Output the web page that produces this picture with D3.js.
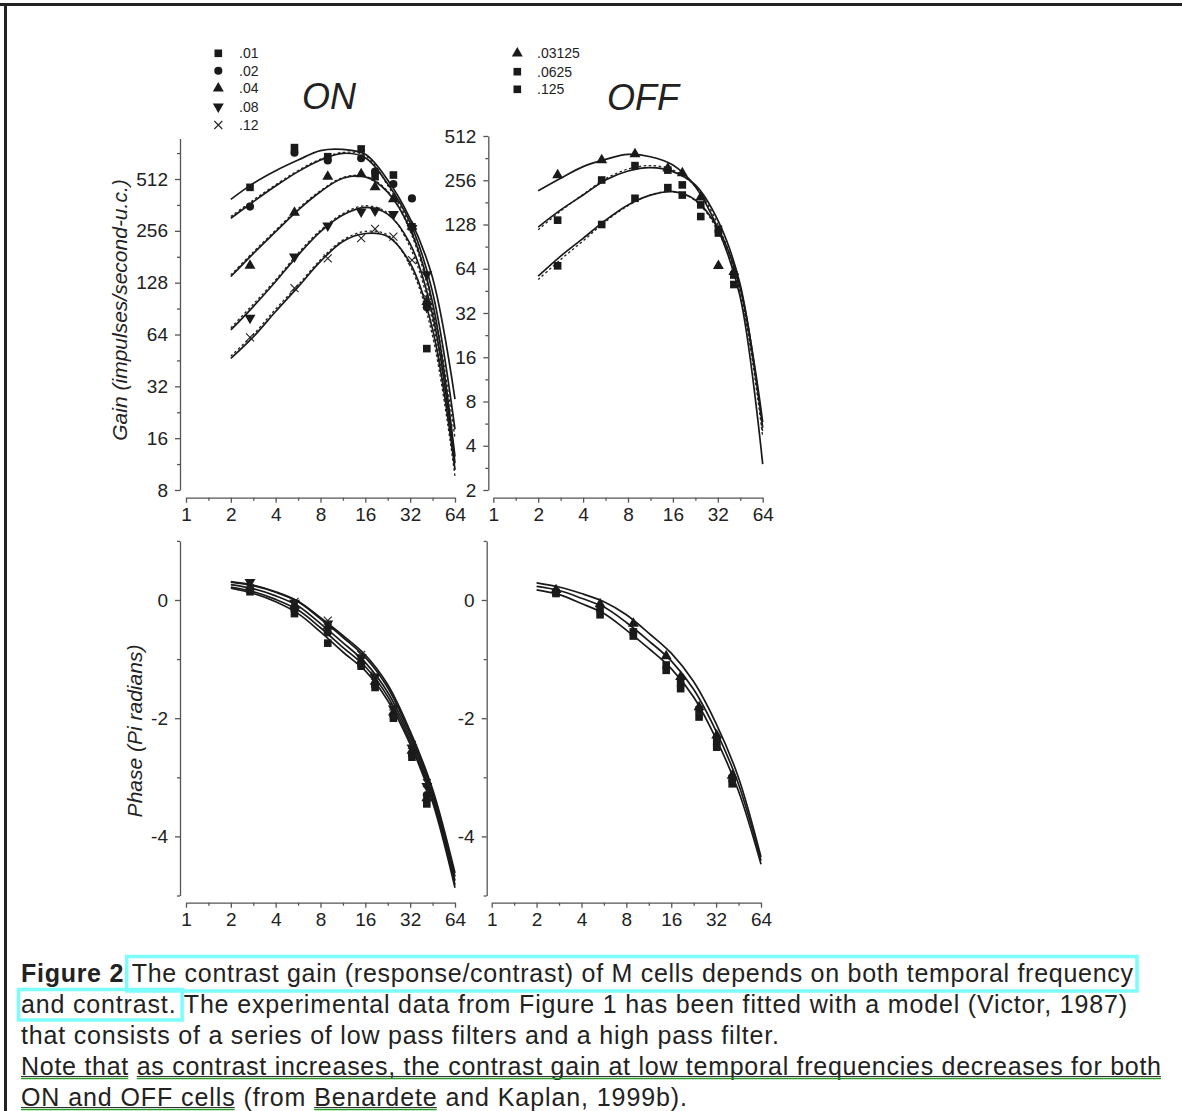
<!DOCTYPE html>
<html><head><meta charset="utf-8">
<script src="https://cdn.jsdelivr.net/npm/d3@7"></script>
<style>
body{margin:0;background:#fff;}
svg{display:block;font-family:"Liberation Sans",Arial,sans-serif;}
</style></head><body>
<svg id="c" width="1182" height="1111"></svg>
<script>
// ---------- DATA ----------
const fitFreq = [2, 2.83, 4, 5.66, 8, 11.3, 16, 22.6, 32, 45, 64];
const onFreq  = [2.69, 5.35, 8.95, 15.0, 18.6, 24.7, 32.9, 41.4];
const offFreq = [2.7, 5.33, 8.91, 14.8, 18.5, 24.6, 32.3, 41];
const xTickLabels = [1, 2, 4, 8, 16, 32, 64];
const onGainTicks = [8, 16, 32, 64, 128, 256, 512];
const offGainTicks = [2, 4, 8, 16, 32, 64, 128, 256, 512];
const phaseTicks = [0, -2, -4];

const onContrasts = [".01", ".02", ".04", ".08", ".12"];
const onSymbols = ["square", "circle", "triangle", "triangleDown", "x"];
const offContrasts = [".03125", ".0625", ".125"];
const offSymbols = ["triangle", "square", "square"];

// ON gain fitted curves (solid)
const onFit01 = [390, 483, 572, 660, 748, 760, 712, 505, 300, 139, 27];
const onFit02 = [303, 378, 466, 565, 660, 722, 680, 480, 285, 115, 18];
const onFit04 = [139, 189, 253, 338, 432, 517, 527, 430, 262, 100, 12.5];
const onFit08 = [68, 93, 130, 185, 253, 316, 350, 320, 215, 85, 11.5];
const onFit12 = [46.5, 62, 87, 121, 170, 222, 247, 237, 166, 70, 10.5];
// ON gain fitted curves (dotted)
const onDot02 = [310, 386, 474, 574, 668, 730, 700, 470, 270, 100, 16];
const onDot04 = [142, 193, 258, 344, 438, 522, 532, 435, 255, 92, 11];
const onDot08 = [70, 96, 133, 190, 258, 322, 358, 325, 205, 78, 10.2];
const onDot12 = [48, 64, 90, 124, 174, 226, 254, 242, 160, 64, 9.6];
// ON gain measured
const onGain01 = [458, 779, 690, 765, 528, 540, 270, 53];
const onGain02 = [354, 728, 656, 676, 565, 479, 395, 92];
const onGain04 = [161, 327, 528, 547, 460, 392, 271, 99];
const onGain08 = [80, 181, 274, 331, 335, 320, 265, 143];
const onGain12 = [61.6, 119, 177, 232, 263, 237, 173, 104];

// OFF gain fitted curves
const offFit03 = [217, 264, 317, 355, 384, 370, 325, 232, 120, 42, 3.0];
const offFit06 = [123, 161, 203, 257, 296, 312, 293, 238, 137, 51, 5.3];
const offFit12 = [57, 78, 103, 137, 174, 203, 214, 188, 121, 48.5, 5.8];
const offDot06 = [118, 158, 205, 262, 305, 322, 300, 232, 128, 46, 4.6];
const offDot12 = [54, 74, 99, 134, 172, 203, 215, 186, 116, 45, 5.0];
// OFF gain measured
const offGain03 = [278, 351, 386, 309, 286, 196, 67, 61];
const offGain06 = [137, 257, 322, 300, 238, 174, 119, 58];
const offGain12 = [67, 128, 193, 228, 203, 145, 112, 50];

// ON phase fitted curves
const onPh01 = [0.20, 0.11, -0.03, -0.23, -0.54, -0.88, -1.20, -1.70, -2.44, -3.40, -4.87];
const onPh02 = [0.22, 0.14, 0.01, -0.17, -0.47, -0.80, -1.13, -1.63, -2.39, -3.35, -4.82];
const onPh04 = [0.26, 0.19, 0.07, -0.10, -0.40, -0.72, -1.06, -1.56, -2.33, -3.29, -4.75];
const onPh08 = [0.30, 0.24, 0.13, -0.03, -0.32, -0.63, -0.97, -1.48, -2.27, -3.23, -4.68];
const onPh12 = [0.31, 0.25, 0.14, -0.02, -0.30, -0.60, -0.93, -1.43, -2.22, -3.18, -4.62];
// ON phase measured
const onPm01 = [0.14, -0.23, -0.73, -1.12, -1.48, -2.00, -2.66, -3.45];
const onPm02 = [0.17, -0.17, -0.55, -1.10, -1.45, -1.96, -2.62, -3.30];
const onPm04 = [0.22, -0.10, -0.45, -1.03, -1.38, -1.90, -2.55, -3.35];
const onPm08 = [0.30, -0.05, -0.40, -0.97, -1.30, -1.84, -2.50, -3.15];
const onPm12 = [0.20, -0.03, -0.35, -0.93, -1.28, -1.80, -2.45, -3.10];

// OFF phase fitted curves
const offPh03 = [0.29, 0.22, 0.11, -0.03, -0.25, -0.56, -0.90, -1.38, -2.09, -2.99, -4.35];
const offPh06 = [0.23, 0.16, 0.03, -0.12, -0.38, -0.69, -1.03, -1.51, -2.22, -3.10, -4.41];
const offPh12 = [0.17, 0.09, -0.06, -0.23, -0.51, -0.82, -1.16, -1.64, -2.35, -3.22, -4.47];
// OFF phase measured
const offPm03 = [0.17, -0.07, -0.40, -0.95, -1.30, -1.81, -2.29, -2.97];
const offPm06 = [0.13, -0.14, -0.54, -1.10, -1.41, -1.86, -2.40, -3.02];
const offPm12 = [0.11, -0.25, -0.61, -1.19, -1.50, -1.98, -2.49, -3.11];

const captionLines = [
  ["Figure 2 ", "The contrast gain (response/contrast) of M cells depends on both temporal frequency"],
  ["", "and contrast.  The experimental data from Figure 1 has been fitted with a model (Victor, 1987)"],
  ["", "that consists of a series of low pass filters and a high pass filter."],
  ["", "Note that as contrast increases, the contrast gain at low temporal frequencies decreases for both"],
  ["", "ON and OFF cells (from Benardete and Kaplan, 1999b)."]
];

// ---------- DRAWING ----------
const svg = d3.select("#c");
const INK = "#1a1a1a", AX = "#555";

// frame
svg.append("rect").attr("x", 0).attr("y", 3).attr("width", 1182).attr("height", 3).attr("fill", "#222");
svg.append("rect").attr("x", 4).attr("y", 3).attr("width", 3).attr("height", 1108).attr("fill", "#222");

const zip = (xs, ys) => xs.map((x, i) => [x, ys[i]]);
const minorLog = (majors) => majors.slice(0, -1).map(v => v * Math.SQRT2);

function drawMarker(g, type, cx, cy) {
  if (type === "x") {
    g.append("path").attr("d", "M-4,-4L4,4M-4,4L4,-4")
      .attr("transform", `translate(${cx},${cy})`)
      .attr("stroke", "#222").attr("stroke-width", 1.1).attr("fill", "none");
    return;
  }
  const map = {square: [d3.symbolSquare, 58], circle: [d3.symbolCircle, 52],
               triangle: [d3.symbolTriangle, 52], triangleDown: [d3.symbolTriangle, 52]};
  const [t, s] = map[type];
  g.append("path").attr("d", d3.symbol(t, s)())
    .attr("transform", `translate(${cx},${cy})` + (type === "triangleDown" ? " rotate(180)" : ""))
    .attr("fill", INK);
}

function styleAxis(g) {
  g.selectAll(".domain").attr("stroke", AX).attr("stroke-width", 1.3);
  g.selectAll(".tick line").attr("stroke", AX).attr("stroke-width", 1.3);
  g.selectAll(".tick text").attr("fill", "#222").style("font-size", "19px")
    .style("font-family", '"Liberation Sans",Arial,sans-serif');
}

function panel(cfg) {
  const g = svg.append("g");
  const x = d3.scaleLog().base(2).domain([1, 64]).range(cfg.xr);
  const y = (cfg.log ? d3.scaleLog().base(2) : d3.scaleLinear()).domain(cfg.yd).range(cfg.yr);
  const xa = g.append("g").attr("transform", `translate(0,${cfg.xAxisY})`)
    .call(d3.axisBottom(x).tickValues(xTickLabels).tickFormat(d3.format("d")).tickSize(5).tickSizeOuter(0).tickPadding(5));
  styleAxis(xa);
  const xm = g.append("g").attr("transform", `translate(0,${cfg.xAxisY})`)
    .call(d3.axisBottom(x).tickValues(minorLog(xTickLabels)).tickFormat("").tickSize(3).tickSizeOuter(0));
  styleAxis(xm); xm.select(".domain").remove();
  const ya = g.append("g").attr("transform", `translate(${cfg.yAxisX},0)`)
    .call(d3.axisLeft(y).tickValues(cfg.yTicks).tickFormat(d3.format("d")).tickSize(5).tickSizeOuter(0).tickPadding(7));
  styleAxis(ya);
  const ym = g.append("g").attr("transform", `translate(${cfg.yAxisX},0)`)
    .call(d3.axisLeft(y).tickValues(cfg.yMinor).tickFormat("").tickSize(3).tickSizeOuter(0));
  styleAxis(ym); ym.select(".domain").remove();
  ya.selectAll(".tick text").text(d => d < 0 ? "-" + Math.abs(d) : d);

  const line = d3.line().x(d => x(d[0])).y(d => y(d[1])).curve(d3.curveCatmullRom.alpha(0.5));
  (cfg.dots || []).forEach(s => {
    g.append("path").attr("d", line(zip(fitFreq, s))).attr("fill", "none")
      .attr("stroke", "#222").attr("stroke-width", 1.3).attr("stroke-dasharray", "2.5,2.5");
  });
  cfg.fits.forEach(s => {
    g.append("path").attr("d", line(zip(fitFreq, s))).attr("fill", "none")
      .attr("stroke", INK).attr("stroke-width", 1.7);
  });
  cfg.meas.forEach((s, i) => {
    s.forEach((v, j) => drawMarker(g, cfg.syms[i], x(cfg.mFreq[j]), y(v)));
  });
}

panel({xr: [186, 455], xAxisY: 497.7, yAxisX: 180, log: true, yd: [8, 880], yr: [490, 138.5],
  yTicks: onGainTicks, yMinor: minorLog(onGainTicks.concat([1024])).filter(v => v < 880),
  fits: [onFit01, onFit02, onFit04, onFit08, onFit12], dots: [onDot02, onDot04, onDot08, onDot12],
  meas: [onGain01, onGain02, onGain04, onGain08, onGain12], syms: onSymbols, mFreq: onFreq});
panel({xr: [493.3, 762.7], xAxisY: 497.7, yAxisX: 488.3, log: true, yd: [2, 512], yr: [490, 136],
  yTicks: offGainTicks, yMinor: minorLog(offGainTicks),
  fits: [offFit03, offFit06, offFit12], dots: [offDot06, offDot12],
  meas: [offGain03, offGain06, offGain12], syms: offSymbols, mFreq: offFreq});
panel({xr: [186, 455], xAxisY: 902.7, yAxisX: 180, log: false, yd: [-5, 1], yr: [895.5, 540.9],
  yTicks: phaseTicks, yMinor: [1, -1, -3, -5],
  fits: [onPh01, onPh02, onPh04, onPh08, onPh12],
  meas: [onPm01, onPm02, onPm04, onPm08, onPm12], syms: onSymbols, mFreq: onFreq});
panel({xr: [491.7, 761], xAxisY: 902.7, yAxisX: 486.7, log: false, yd: [-5, 1], yr: [895.5, 540.9],
  yTicks: phaseTicks, yMinor: [1, -1, -3, -5],
  fits: [offPh03, offPh06, offPh12],
  meas: [offPm03, offPm06, offPm12], syms: offSymbols, mFreq: offFreq});

// axis titles
svg.append("text").attr("transform", "translate(127,310) rotate(-90)").attr("text-anchor", "middle")
  .style("font-size", "21px").style("font-style", "italic").attr("fill", "#222")
  .text("Gain (impulses/second-u.c.)");
svg.append("text").attr("transform", "translate(142,731) rotate(-90)").attr("text-anchor", "middle")
  .style("font-size", "21px").style("font-style", "italic").attr("fill", "#222")
  .text("Phase (Pi radians)");

// panel titles
svg.append("text").attr("x", 302).attr("y", 109).style("font-size", "36px").style("font-style", "italic")
  .attr("fill", "#222").text("ON");
svg.append("text").attr("x", 607).attr("y", 110).style("font-size", "36px").style("font-style", "italic")
  .attr("fill", "#222").text("OFF");

// legends
const legOn = svg.append("g");
onContrasts.forEach((c, i) => {
  const cy = [53.3, 70.7, 88.3, 106.7, 125][i];
  drawMarker(legOn, onSymbols[i], 218.3, cy);
  legOn.append("text").attr("x", 239).attr("y", cy + 5).style("font-size", "14px").attr("fill", "#222").text(c);
});
const legOff = svg.append("g");
offContrasts.forEach((c, i) => {
  const cy = [53.3, 71.7, 89.3][i];
  drawMarker(legOff, offSymbols[i], 517.3, cy);
  legOff.append("text").attr("x", 537).attr("y", cy + 5).style("font-size", "14px").attr("fill", "#222").text(c);
});

// caption
const baselines = [982, 1013, 1044, 1075, 1106];
const lineWidths = [1112, 1106, 758, 1140, 666];
const cap = svg.append("g").style("font-size", "25px").style("white-space", "pre");
const texts = captionLines.map((ln, i) => {
  const t = cap.append("text").attr("x", 21).attr("y", baselines[i]).attr("fill", "#222")
    .attr("textLength", lineWidths[i]).attr("lengthAdjust", "spacing");
  if (ln[0]) t.append("tspan").style("font-weight", "bold").text(ln[0]);
  t.append("tspan").text(ln[1]);
  return t;
});
function span(i, str) {
  const node = texts[i].node();
  const full = captionLines[i][0] + captionLines[i][1];
  const k = full.indexOf(str);
  const x0 = node.getStartPositionOfChar(k).x;
  const x1 = node.getEndPositionOfChar(k + str.length - 1).x;
  return [x0, x1];
}
const boxes = svg.append("g").attr("fill", "none").attr("stroke", "#7dfcfc").attr("stroke-width", 3.5);
let s1 = span(0, captionLines[0][1]);
boxes.append("rect").attr("x", s1[0] - 5).attr("y", baselines[0] - 25.5)
  .attr("width", s1[1] - s1[0] + 9).attr("height", 34.5);
let s2 = span(1, "and contrast.");
boxes.append("rect").attr("x", s2[0] - 2.5).attr("y", baselines[1] - 23.5)
  .attr("width", s2[1] - s2[0] + 9).attr("height", 30.5);
const ul = svg.append("g");
[[3, "Note that"], [3, "as contrast increases, the contrast gain at low temporal frequencies decreases for both"],
 [4, "ON and OFF cells"], [4, "Benardete"]].forEach(([i, str]) => {
  const s = span(i, str);
  ul.append("line").attr("x1", s[0]).attr("x2", s[1]).attr("y1", baselines[i] + 1.5).attr("y2", baselines[i] + 1.5)
    .attr("stroke", "#333").attr("stroke-width", 1.2);
  ul.append("line").attr("x1", s[0]).attr("x2", s[1]).attr("y1", baselines[i] + 3.5).attr("y2", baselines[i] + 3.5)
    .attr("stroke", "#2a9a2a").attr("stroke-width", 1.5);
});
</script></body></html>
